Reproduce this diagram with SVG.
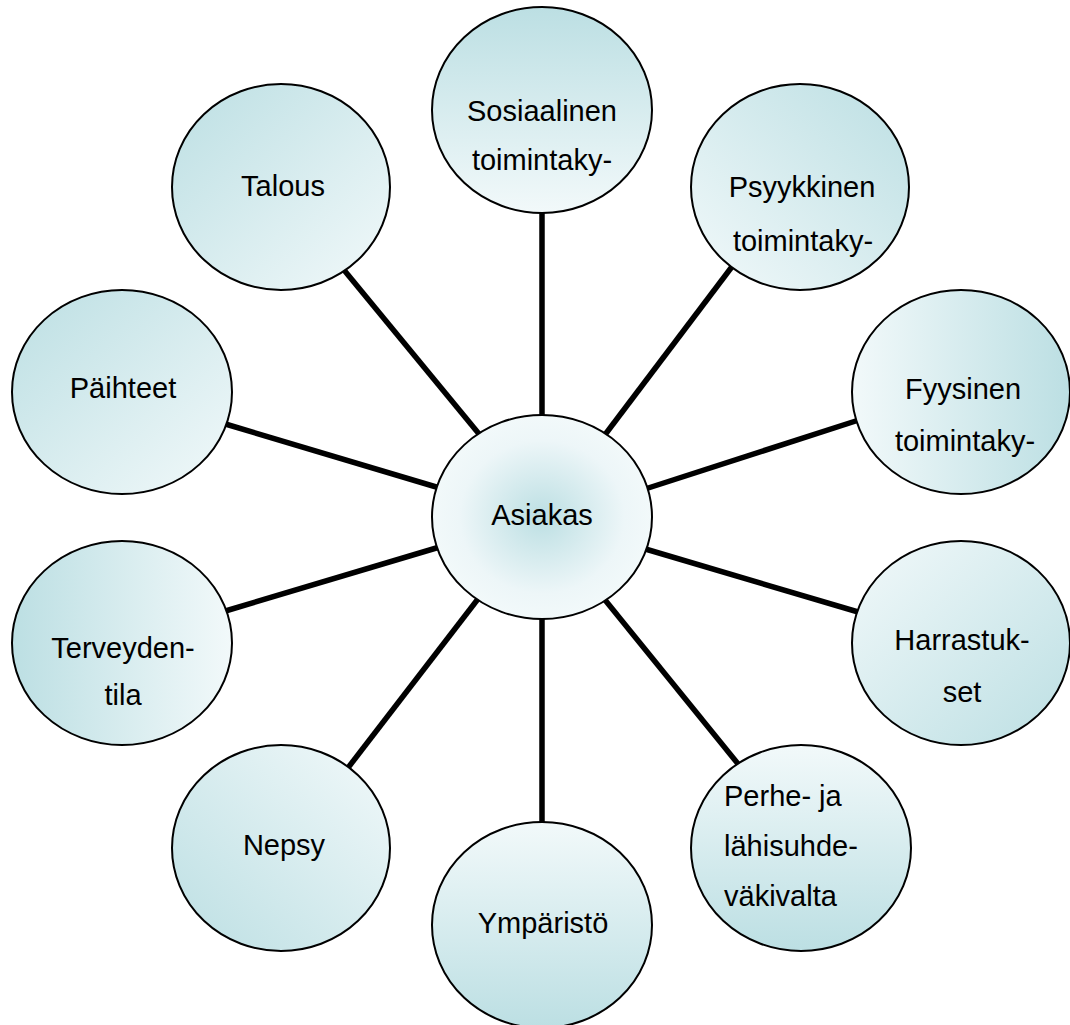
<svg xmlns="http://www.w3.org/2000/svg" width="1070" height="1025" viewBox="0 0 1070 1025">
<style>
.n{stroke:#000;stroke-width:2}
.t{font-family:"Liberation Sans",Arial,sans-serif;font-size:29px;fill:#000;text-anchor:middle}
.l{stroke:#000;stroke-width:5.5;fill:none}
</style>
<defs>
<linearGradient id="gT" x1="0" y1="0" x2="0" y2="1"><stop offset="0" stop-color="#bcdfe3"/><stop offset="1" stop-color="#f2f9fa"/></linearGradient>
<linearGradient id="gB" x1="0" y1="1" x2="0" y2="0"><stop offset="0" stop-color="#bcdfe3"/><stop offset="1" stop-color="#f2f9fa"/></linearGradient>
<linearGradient id="gL" x1="0" y1="0" x2="1" y2="0"><stop offset="0" stop-color="#bcdfe3"/><stop offset="1" stop-color="#f2f9fa"/></linearGradient>
<linearGradient id="gR" x1="1" y1="0" x2="0" y2="0"><stop offset="0" stop-color="#bcdfe3"/><stop offset="1" stop-color="#f2f9fa"/></linearGradient>
<linearGradient id="gTL" x1="0" y1="0" x2="1" y2="1"><stop offset="0" stop-color="#bcdfe3"/><stop offset="1" stop-color="#f2f9fa"/></linearGradient>
<linearGradient id="gTR" x1="1" y1="0" x2="0" y2="1"><stop offset="0" stop-color="#bcdfe3"/><stop offset="1" stop-color="#f2f9fa"/></linearGradient>
<linearGradient id="gBL" x1="0" y1="1" x2="1" y2="0"><stop offset="0" stop-color="#bcdfe3"/><stop offset="1" stop-color="#f2f9fa"/></linearGradient>
<linearGradient id="gBR" x1="1" y1="1" x2="0" y2="0"><stop offset="0" stop-color="#bcdfe3"/><stop offset="1" stop-color="#f2f9fa"/></linearGradient>
<radialGradient id="gC" cx="0.5" cy="0.5" r="0.5"><stop offset="0" stop-color="#bcdfe3"/><stop offset="0.75" stop-color="#edf6f8"/><stop offset="1" stop-color="#f2f9fa"/></radialGradient>
</defs>
<g id="connectors">
<line class="l" x1="542" y1="205" x2="542" y2="420"/>
<line class="l" x1="542" y1="615" x2="542" y2="830"/>
<line class="l" x1="344" y1="270" x2="484" y2="440"/>
<line class="l" x1="734" y1="264" x2="601" y2="440"/>
<line class="l" x1="222" y1="423" x2="443" y2="489"/>
<line class="l" x1="865" y1="418" x2="642" y2="490"/>
<line class="l" x1="222" y1="612" x2="443" y2="546"/>
<line class="l" x1="865" y1="614" x2="642" y2="548"/>
<line class="l" x1="344" y1="773" x2="481" y2="595"/>
<line class="l" x1="743" y1="770" x2="601" y2="595"/>
</g>
<g id="asiakas"><ellipse class="n" cx="542" cy="517" rx="110" ry="102" fill="url(#gC)"/><text class="t" x="542" y="525">Asiakas</text></g>
<g id="sosiaalinen"><ellipse class="n" cx="542" cy="110" rx="110" ry="103" fill="url(#gT)"/><text class="t" x="542" y="121">Sosiaalinen</text><text class="t" x="542" y="170">toimintaky-</text></g>
<g id="psyykkinen"><ellipse class="n" cx="800" cy="187" rx="109" ry="103" fill="url(#gTR)"/><text class="t" x="802" y="197">Psyykkinen</text><text class="t" x="803" y="251">toimintaky-</text></g>
<g id="fyysinen"><ellipse class="n" cx="961" cy="392" rx="109" ry="102" fill="url(#gR)"/><text class="t" x="963" y="399">Fyysinen</text><text class="t" x="965" y="451">toimintaky-</text></g>
<g id="harrastukset"><ellipse class="n" cx="961" cy="643" rx="109" ry="102" fill="url(#gBR)"/><text class="t" x="962" y="650">Harrastuk-</text><text class="t" x="962" y="702">set</text></g>
<g id="perhe"><ellipse class="n" cx="801" cy="848" rx="110" ry="103" fill="url(#gB)"/><text class="t" x="724" y="806" style="text-anchor:start">Perhe- ja</text><text class="t" x="724" y="856" style="text-anchor:start">lähisuhde-</text><text class="t" x="724" y="906" style="text-anchor:start">väkivalta</text></g>
<g id="ymparisto"><ellipse class="n" cx="542" cy="925" rx="110" ry="103" fill="url(#gB)"/><text class="t" x="543" y="933">Ympäristö</text></g>
<g id="nepsy"><ellipse class="n" cx="281" cy="848" rx="109" ry="103" fill="url(#gBL)"/><text class="t" x="284" y="855">Nepsy</text></g>
<g id="terveydentila"><ellipse class="n" cx="122" cy="643" rx="110" ry="102" fill="url(#gL)"/><text class="t" x="123" y="658">Terveyden-</text><text class="t" x="123" y="705">tila</text></g>
<g id="paihteet"><ellipse class="n" cx="122" cy="392" rx="110" ry="102" fill="url(#gTL)"/><text class="t" x="123" y="398">Päihteet</text></g>
<g id="talous"><ellipse class="n" cx="281" cy="187" rx="109" ry="103" fill="url(#gTL)"/><text class="t" x="283" y="196">Talous</text></g>
</svg>
